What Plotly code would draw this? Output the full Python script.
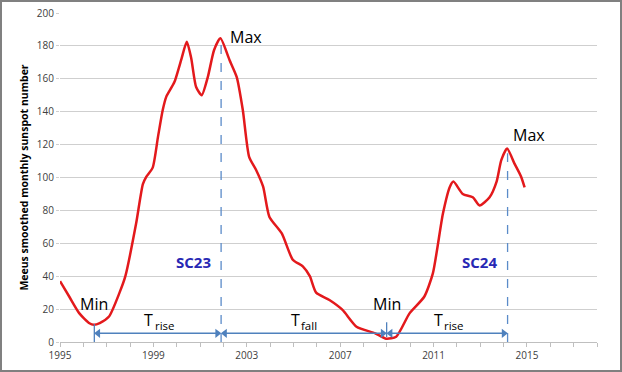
import plotly.graph_objects as go

# Data
years = [1995.0, 1995.4, 1995.83, 1996.26, 1996.45, 1996.7, 1997.1, 1997.55, 1997.8,
         1998.26, 1998.55, 1998.7, 1998.97, 1999.2, 1999.4, 1999.55, 1999.9, 2000.2,
         2000.43, 2000.62, 2000.83, 2001.07, 2001.33, 2001.6, 2001.87, 2002.26,
         2002.57, 2002.83, 2003.1, 2003.4, 2003.7, 2003.97, 2004.5, 2004.97, 2005.4,
         2005.7, 2005.97, 2006.54, 2007.1, 2007.7, 2008.5, 2008.97, 2009.4, 2009.97,
         2010.6, 2010.97, 2011.4, 2011.7, 2011.85, 2012.25, 2012.68, 2012.97, 2013.4,
         2013.7, 2013.9, 2014.15, 2014.46, 2014.75, 2014.9]
sunspots = [37, 27.5, 17.4, 11.4, 10.5, 11.5, 15.5, 30, 40,
            72, 96, 100.5, 106, 125, 141, 149, 158, 172,
            182.5, 172.5, 155, 150, 161, 177.5, 184.6, 171.4,
            161, 141, 112.6, 104.6, 94.4, 76, 66, 50, 46,
            40, 30, 25.5, 19.5, 9.3, 5.3, 2.0, 3.2, 17.4,
            27.5, 41.7, 78, 94.4, 97.5, 90, 88, 83, 88,
            97.5, 110.6, 117.7, 108.6, 100.5, 94]

min_years = [1996.47, 2008.99]
min_values = [10.5, 2.0]
max_years = [2001.9, 2014.17]
max_values = [184.6, 117.7]
cycle_labels = ["SC23", "SC24"]
phase_subscripts = ["rise", "fall", "rise"]

W, H = 622, 372
ML, MR, MT, MB = 60, 25, 13, 30

FONT = "Open Sans"
ARROW = "#4f81bd"

fig = go.Figure()
fig.add_trace(go.Scatter(x=years, y=sunspots, mode="lines",
                         line=dict(color="#e3191c", width=2.5, shape="spline", smoothing=0.6),
                         hoverinfo="skip", showlegend=False))

shapes = []
annotations = []

# dashed verticals at maxima
for mx, mv in zip(max_years, max_values):
    shapes.append(dict(type="line", xref="x", yref="y", x0=mx, x1=mx, y0=0, y1=mv - 3,
                       line=dict(color="#5b8bc9", width=1.3, dash="dash")))
# solid short ticks at minima
shapes.append(dict(type="line", xref="x", yref="y", x0=min_years[0], x1=min_years[0], y0=0, y1=11,
                   line=dict(color=ARROW, width=1.3)))
shapes.append(dict(type="line", xref="x", yref="y", x0=min_years[1], x1=min_years[1], y0=3, y1=12,
                   line=dict(color=ARROW, width=1.3)))

# phase arrows: shaft as shape, heads as triangle markers
arrow_y = 5.3
head_off = 0.16
segments = [(min_years[0], max_years[0]), (max_years[0], min_years[1]), (min_years[1], max_years[1])]
left_x, right_x = [], []
for (a, b), sub in zip(segments, phase_subscripts):
    shapes.append(dict(type="line", xref="x", yref="y", x0=a + 0.1, x1=b - 0.1,
                       y0=arrow_y, y1=arrow_y, line=dict(color=ARROW, width=1.5)))
    left_x.append(a + head_off)
    right_x.append(b - head_off)
    c = (a + b) / 2 - 0.1
    annotations.append(dict(x=c, y=13.6, xref="x", yref="y", text="T", showarrow=False,
                            xanchor="right", font=dict(family=FONT, size=16, color="#000000")))
    annotations.append(dict(x=c - 0.12, y=9.8, xref="x", yref="y", text=sub, showarrow=False,
                            xanchor="left", font=dict(family=FONT, size=11.5, color="#000000")))
fig.add_trace(go.Scatter(x=left_x, y=[arrow_y] * len(left_x), mode="markers",
                         marker=dict(symbol="triangle-left", size=8, color=ARROW),
                         hoverinfo="skip", showlegend=False))
fig.add_trace(go.Scatter(x=right_x, y=[arrow_y] * len(right_x), mode="markers",
                         marker=dict(symbol="triangle-right", size=8, color=ARROW),
                         hoverinfo="skip", showlegend=False))

# Min / Max labels
for mx in min_years:
    annotations.append(dict(x=mx, y=23.1, xref="x", yref="y", text="Min", showarrow=False,
                            font=dict(family=FONT, size=16, color="#000000")))
annotations.append(dict(x=2002.97, y=185.4, xref="x", yref="y", text="Max", showarrow=False,
                        font=dict(family=FONT, size=16, color="#000000")))
annotations.append(dict(x=2015.09, y=125.8, xref="x", yref="y", text="Max", showarrow=False,
                        font=dict(family=FONT, size=16, color="#000000")))

# cycle labels
for cx, lab in zip([2000.73, 2012.96], cycle_labels):
    annotations.append(dict(x=cx, y=48.8, xref="x", yref="y", text="<b>" + lab + "</b>",
                            showarrow=False, font=dict(family=FONT, size=15, color="#2828b4")))

# outer frame
pw, ph = W - ML - MR, H - MT - MB
shapes.append(dict(type="rect", xref="paper", yref="paper",
                   x0=(1 - ML) / pw, x1=(W - 1 - ML) / pw,
                   y0=-(H - 1 - MT - ph) / ph, y1=(ph + MT - 1) / ph,
                   line=dict(color="#808080", width=2), fillcolor="rgba(0,0,0,0)", layer="below"))

fig.update_layout(
    width=W, height=H,
    margin=dict(l=ML, r=MR, t=MT, b=MB, autoexpand=False),
    paper_bgcolor="white", plot_bgcolor="white",
    font=dict(family=FONT, color="#404040"),
    shapes=shapes, annotations=annotations,
    xaxis=dict(range=[1995, 2018], tick0=1995, dtick=4, showgrid=False, zeroline=False,
               showline=True, linecolor="#bfbfbf", linewidth=1,
               ticks="outside", ticklen=4, tickcolor="#bfbfbf",
               minor=dict(dtick=1, tick0=1995, ticks="outside", ticklen=4, tickcolor="#bfbfbf",
                          showgrid=False),
               tickfont=dict(size=10, color="#404040")),
    yaxis=dict(range=[0, 200], dtick=20, showgrid=True, gridcolor="#cfcfcf", gridwidth=1,
               zeroline=False, showline=False, ticks="outside", ticklen=3, tickcolor="#cfcfcf",
               tickfont=dict(size=10, color="#404040"),
               title=dict(text="<b>Meeus smoothed monthly sunspot number</b>",
                          font=dict(size=10.5, color="#000000"), standoff=6)),
)

fig.write_html("out.html", config={"displayModeBar": False},
               post_script="document.body.style.margin='0';document.body.style.overflow='hidden';")
